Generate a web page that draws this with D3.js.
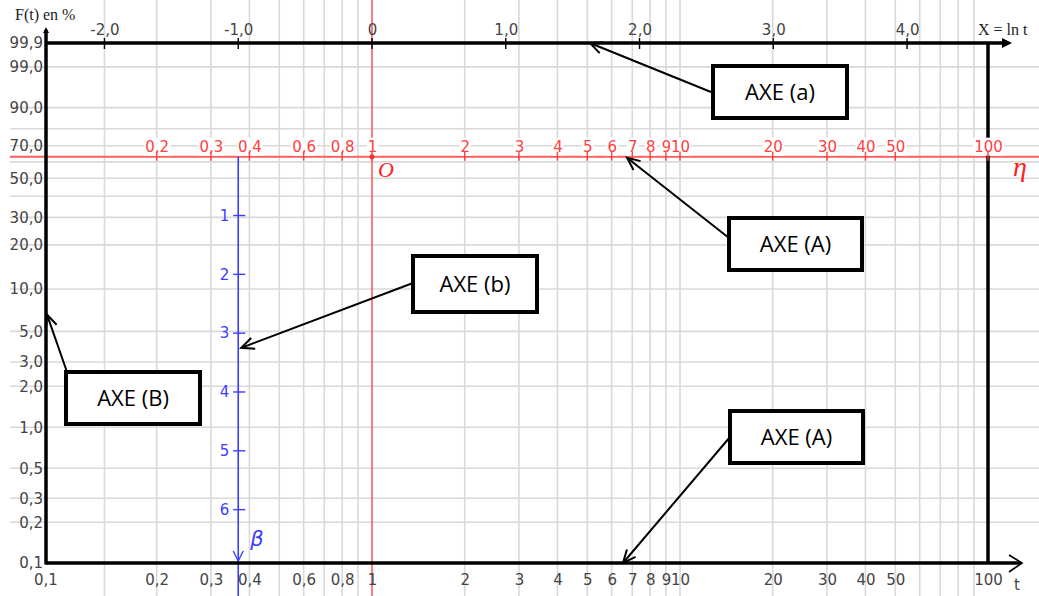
<!DOCTYPE html>
<html>
<head>
<meta charset="utf-8">
<script src="https://cdn.jsdelivr.net/npm/d3@7"></script>
<style>
body{margin:0;background:#fff;}
svg{display:block;}
</style>
</head>
<body>
<svg id="weibull" width="1039" height="596"></svg>
<script>
// valeurs de t (axe A et axe eta)
var tTicks  = [0.2, 0.3, 0.4, 0.6, 0.8, 1, 2, 3, 4, 5, 6, 7, 8, 9, 10, 20, 30, 40, 50, 100];
var tLabels = ["0,2","0,3","0,4","0,6","0,8","1","2","3","4","5","6","7","8","9","10","20","30","40","50","100"];
var tGrid   = [0.2, 0.3, 0.4, 0.5, 0.6, 0.7, 0.8, 0.9, 2, 3, 4, 5, 6, 7, 8, 9, 10, 20, 30, 40, 50, 60, 70, 80, 90];
// axe (a) : X = ln t
var lnTicks  = [-2, -1, 0, 1, 2, 3, 4];
var lnLabels = ["-2,0","-1,0","0","1,0","2,0","3,0","4,0"];
var lnGrid   = [-2];
// axe (B) : F(t) en %
var fTicks  = [99.9, 99, 90, 70, 50, 30, 20, 10, 5, 3, 2, 1, 0.5, 0.3, 0.2, 0.1];
var fLabels = ["99,9","99,0","90,0","70,0","50,0","30,0","20,0","10,0","5,0","3,0","2,0","1,0","0,5","0,3","0,2","0,1"];
var fGrid   = [0.2, 0.3, 0.5, 1, 2, 3, 5, 10, 20, 30, 40, 50, 60, 70, 80, 90, 99];
// axe (b) : beta
var betaTicks = [1, 2, 3, 4, 5, 6];
// bulles
var boxLabels = ["AXE (a)", "AXE (A)", "AXE (b)", "AXE (B)", "AXE (A)"];
var boxAxis   = ["a", "eta", "b", "B", "A"];
var boxTarget = [5.1, 6.73, 3.25, 6.6, 6.53];

var svg = d3.select("#weibull");
var lab = 15;

function toY(p){ return Math.log(-Math.log(1 - p/100)); }

var x   = d3.scaleLog().domain([1, 100]).range([372, 988]);
var xln = d3.scaleLinear().domain([0, Math.log(100)]).range([372, 988]);
var yW  = d3.scaleLinear().domain([toY(0.1), toY(99.9)]).range([563, 43]);
var yBeta = d3.scaleLinear().domain([0, 1]).range([yW(0), yW(-1)]);

var xLeft = 46, xRight = x(100), yTop = yW(toY(99.9)), yBot = yW(toY(0.1)), yEta = yW(0);
var xB = xln(-1);

// grille
var grid = svg.append("g").attr("stroke", "#d9d9d9").attr("stroke-width", 1.6);
grid.selectAll("line.gv").data(tGrid).enter().append("line").attr("class", "gv")
  .attr("x1", d => x(d)).attr("x2", d => x(d)).attr("y1", 0).attr("y2", 596);
grid.selectAll("line.gl").data(lnGrid).enter().append("line").attr("class", "gl")
  .attr("x1", d => xln(d)).attr("x2", d => xln(d)).attr("y1", 0).attr("y2", 596);
grid.selectAll("line.gh").data(fGrid).enter().append("line").attr("class", "gh")
  .attr("x1", 10).attr("x2", 1039).attr("y1", d => yW(toY(d))).attr("y2", d => yW(toY(d)));

// axe eta et droite t = 1 (rouge)
svg.append("line")
  .attr("x1", 10).attr("x2", 1039).attr("y1", yEta).attr("y2", yEta)
  .attr("stroke", "#ff5c5c").attr("stroke-width", 2);
svg.append("line")
  .attr("x1", x(1)).attr("x2", x(1)).attr("y1", 0).attr("y2", 596)
  .attr("stroke", "#ff5c5c").attr("stroke-width", 1.6);

// axe beta (bleu)
svg.append("line")
  .attr("x1", xB).attr("x2", xB).attr("y1", yEta).attr("y2", 596)
  .attr("stroke", "#3c3cff").attr("stroke-width", 1.6);
svg.append("polyline")
  .attr("points", [[xB-5, yBot-12], [xB, yBot-2], [xB+5, yBot-12]].join(" "))
  .attr("fill", "none").attr("stroke", "#3c3cff").attr("stroke-width", 1.4);
svg.selectAll("line.bt").data(betaTicks).enter().append("line").attr("class", "bt")
  .attr("x1", xB-5).attr("x2", xB+7).attr("y1", d => yBeta(d)).attr("y2", d => yBeta(d))
  .attr("stroke", "#3c3cff").attr("stroke-width", 1.4);
var bAx = svg.append("g").attr("transform", "translate(" + (xB-5) + ",0)")
  .call(d3.axisLeft(yBeta).tickValues(betaTicks).tickFormat(d => d).tickSize(0).tickPadding(4));
bAx.select(".domain").remove();
bAx.attr("font-size", lab).attr("font-family", "DejaVu Sans");
bAx.selectAll("text").attr("fill", "#3c3cff");
svg.append("text")
  .attr("x", xB+12).attr("y", 546)
  .attr("font-size", 21).attr("font-style", "italic").attr("font-family", "DejaVu Sans")
  .attr("fill", "#3c3cff").text("β");

// axes noirs
var axes = svg.append("g").attr("stroke", "#000").attr("stroke-width", 3.5);
axes.append("line").attr("x1", xLeft).attr("x2", xLeft).attr("y1", 30).attr("y2", yBot+1.5);
axes.append("line").attr("x1", xLeft).attr("x2", 1021).attr("y1", yBot).attr("y2", yBot);
axes.append("line").attr("x1", xLeft).attr("x2", 1004).attr("y1", yTop).attr("y2", yTop);
axes.append("line").attr("x1", xRight).attr("x2", xRight).attr("y1", yTop).attr("y2", yBot);
svg.append("polygon").attr("points", [[1002, yTop-5], [1012, yTop], [1002, yTop+5]].join(" ")).attr("fill", "#000");
svg.append("polygon").attr("points", [[xLeft-3, 33], [xLeft, 27], [xLeft+3, 33]].join(" ")).attr("fill", "#000");
svg.append("polyline").attr("points", [[1009, yBot-8], [1022, yBot], [1009, yBot+9]].join(" "))
  .attr("fill", "none").attr("stroke", "#000").attr("stroke-width", 1.6);

// axe (a) : graduations X = ln t
svg.selectAll("line.at").data(lnTicks).enter().append("line").attr("class", "at")
  .attr("x1", d => xln(d)).attr("x2", d => xln(d)).attr("y1", yTop-5).attr("y2", yTop+6)
  .attr("stroke", "#000").attr("stroke-width", 1.4);
var aAx = svg.append("g").attr("transform", "translate(0," + yTop + ")")
  .call(d3.axisTop(xln).tickValues(lnTicks).tickFormat((d, i) => lnLabels[i]).tickSize(0).tickPadding(8));
aAx.select(".domain").remove();
aAx.attr("font-size", lab).attr("font-family", "DejaVu Sans");
aAx.selectAll("text").attr("fill", "#444");

// axe (B) : F(t)
var BAx = svg.append("g").attr("transform", "translate(" + (xLeft-2) + ",0)")
  .call(d3.axisLeft(yW).tickValues(fTicks.map(toY)).tickFormat((d, i) => fLabels[i]).tickSize(0).tickPadding(1));
BAx.select(".domain").remove();
BAx.attr("font-size", lab).attr("font-family", "DejaVu Sans");
BAx.selectAll("text").attr("fill", "#444");

// axe (A) : t
var AAx = svg.append("g").attr("transform", "translate(0," + yBot + ")")
  .call(d3.axisBottom(x).tickValues(tTicks).tickFormat((d, i) => tLabels[i]).tickSize(0).tickPadding(11));
AAx.select(".domain").remove();
AAx.attr("font-size", lab).attr("font-family", "DejaVu Sans");
AAx.selectAll("text").attr("fill", "#444");
svg.append("text").attr("x", xLeft).attr("y", yBot+22).attr("text-anchor", "middle")
  .attr("font-size", lab).attr("font-family", "DejaVu Sans").attr("fill", "#444").text("0,1");
svg.append("text").attr("x", 1017).attr("y", 590).attr("text-anchor", "middle")
  .attr("font-size", lab).attr("font-family", "DejaVu Sans").attr("fill", "#444").text("t");

// axe eta : graduations rouges
var eAx = svg.append("g").attr("transform", "translate(0," + (yEta-5) + ")")
  .call(d3.axisTop(x).tickValues(tTicks).tickFormat((d, i) => tLabels[i]).tickSize(0).tickPadding(0));
eAx.select(".domain").remove();
eAx.attr("font-size", lab).attr("font-family", "DejaVu Sans");
eAx.selectAll("text").attr("fill", "#ff4040");
eAx.selectAll(".tick").each(function(){
  var b = d3.select(this).select("text").node().getBBox();
  d3.select(this).insert("rect", "text")
    .attr("x", b.x-1).attr("y", b.y).attr("width", b.width+2).attr("height", b.height)
    .attr("fill", "#fff");
});
svg.selectAll("line.et").data(tTicks).enter().append("line").attr("class", "et")
  .attr("x1", d => x(d)).attr("x2", d => x(d)).attr("y1", yEta-5).attr("y2", yEta+4)
  .attr("stroke", "#ff4040").attr("stroke-width", 1.4);
svg.append("circle").attr("cx", x(1)).attr("cy", yEta).attr("r", 2.5).attr("fill", "#ff3030");
svg.append("text").attr("x", x(1)+6).attr("y", yEta+20)
  .attr("font-size", 22).attr("font-style", "italic").attr("font-family", "Liberation Serif")
  .attr("fill", "#ff2020").text("O");
svg.append("text").attr("x", 1013).attr("y", yEta+19)
  .attr("font-size", 28).attr("font-style", "italic").attr("font-family", "Liberation Serif")
  .attr("fill", "#ff2020").text("η");

// titres d'axes
svg.append("text").attr("x", 15).attr("y", 20)
  .attr("font-size", 16).attr("font-family", "Liberation Serif").attr("fill", "#222").text("F(t) en %");
svg.append("text").attr("x", 978).attr("y", 35)
  .attr("font-size", 16).attr("font-family", "Liberation Serif").attr("fill", "#222").text("X = ln t");

// bulles + flèches
var boxes = [[713, 66, 134, 52], [729, 218, 133, 52], [413, 256, 124, 56], [66, 372, 134, 52], [730, 411, 133, 52]];
var starts = [[711, 92], [729, 238], [413, 283], [67, 372], [730, 437]];
function tip(i){
  var a = boxAxis[i], v = boxTarget[i];
  if(a == "a") return [x(v), yTop];
  if(a == "eta") return [x(v), yEta+1];
  if(a == "b") return [xB+3, yBeta(v)];
  if(a == "B") return [xLeft+1, yW(toY(v))];
  return [x(v), yBot];
}
function arrow(p1, p2){
  var g = svg.append("g").attr("stroke", "#000").attr("stroke-width", 2).attr("fill", "none");
  g.append("line").attr("x1", p1[0]).attr("y1", p1[1]).attr("x2", p2[0]).attr("y2", p2[1]);
  var a = Math.atan2(p2[1]-p1[1], p2[0]-p1[0]), L = 14, s = 0.42;
  g.append("polyline").attr("points", [
    [p2[0] - L*Math.cos(a-s), p2[1] - L*Math.sin(a-s)],
    [p2[0], p2[1]],
    [p2[0] - L*Math.cos(a+s), p2[1] - L*Math.sin(a+s)]
  ].join(" "));
}
for(var i=0; i<boxLabels.length; i++){
  arrow(starts[i], tip(i));
}
for(var i=0; i<boxLabels.length; i++){
  var b = boxes[i];
  svg.append("rect")
    .attr("x", b[0]).attr("y", b[1]).attr("width", b[2]).attr("height", b[3])
    .attr("fill", "#fff").attr("stroke", "#000").attr("stroke-width", 4);
  svg.append("text")
    .attr("x", b[0] + b[2]/2).attr("y", b[1] + b[3]/2).attr("dy", "0.36em")
    .attr("text-anchor", "middle")
    .attr("font-size", 22).attr("font-family", "Open Sans").attr("fill", "#000")
    .text(boxLabels[i]);
}
</script>
</body>
</html>
